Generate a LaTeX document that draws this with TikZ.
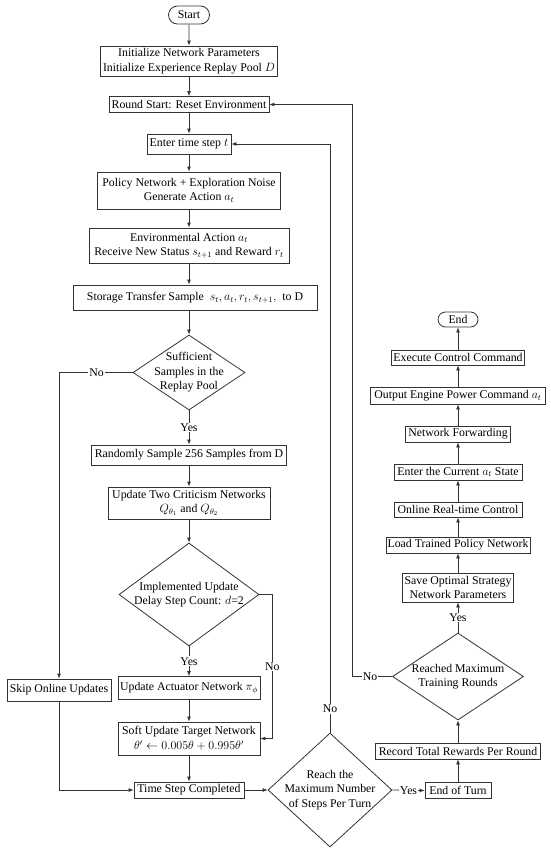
\documentclass[tikz,border=0pt]{standalone}
\usepackage{amsmath}
\usepackage{fontspec}
\setmainfont{Liberation Serif}
\usetikzlibrary{arrows.meta,shapes.geometric,shapes.misc}

\begin{document}
\begin{tikzpicture}[x=1pt, y=-1pt,
    every node/.style={font=\fontsize{11.8}{14.5}\selectfont, align=center},
    proc/.style={draw=black!80, line width=0.8pt, inner sep=0pt},
    term/.style={draw=black!80, line width=0.8pt, inner sep=0pt, rounded rectangle},
    decision/.style={draw=black!80, line width=0.8pt, diamond, inner sep=0pt},
    arr/.style={draw=black!80, line width=0.8pt, -{Latex[length=5pt,width=4pt]}},
    lnk/.style={draw=black!80, line width=0.8pt},
    yn/.style={fill=white, inner sep=1pt}]
    \useasboundingbox (0,0) rectangle (550,854);

    % training loop, main column
    \node[term, minimum width=41, minimum height=18] at (189,15) (start) {Start};
    \node[proc, minimum width=177, minimum height=30] at (189,61) (init) {Initialize Network Parameters\\Initialize Experience Replay Pool $D$};
    \node[proc, minimum width=160, minimum height=16] at (189,104.5) (reset) {Round Start: Reset Environment};
    \node[proc, minimum width=84, minimum height=20] at (189,144) (step) {Enter time step $t$};
    \node[proc, minimum width=183, minimum height=37] at (189,190.5) (policy) {Policy Network + Exploration Noise\\Generate Action $a_t$};
    \node[proc, minimum width=200, minimum height=35] at (189,245.5) (envact) {Environmental Action $a_t$\\Receive New Status $s_{t+1}$ and Reward $r_t$};
    \node[proc, minimum width=244, minimum height=25] at (195,297.5) (store) {Storage Transfer Sample~ $s_t,a_t,r_t,s_{t+1},$~ to D};

    \node[decision, minimum width=112, minimum height=75] at (189,372.5) (suff) {};
    \node at (suff) {Sufficient\\Samples in the\\Replay Pool};

    \node[proc, minimum width=195, minimum height=20] at (189,455) (sample) {Randomly Sample 256 Samples from D};
    \node[proc, minimum width=162, minimum height=32] at (189,503) (critic) {Update Two Criticism Networks\\$Q_{\theta_1}$ and $Q_{\theta_2}$};

    \node[decision, minimum width=140, minimum height=103] at (189,594.5) (delay) {};
    \node at (delay) {Implemented Update\\Delay Step Count: $d$=2};

    \node[proc, minimum width=142, minimum height=23] at (189,688) (actor) {Update Actuator Network $\pi_\phi$};
    \node[proc, minimum width=104, minimum height=22] at (59,690) (skip) {Skip Online Updates};
    \node[proc, minimum width=142, minimum height=33] at (189,738.5) (soft) {Soft Update Target Network\\$\theta' \leftarrow 0.005\theta + 0.995\theta'$};
    \node[proc, minimum width=110, minimum height=16] at (189,790) (done) {Time Step Completed};

    \node[decision, minimum width=124, minimum height=114] at (330,790) (maxstep) {};
    \node at (maxstep) {Reach the\\Maximum Number\\of Steps Per Turn};

    % right column
    \node[proc, minimum width=66, minimum height=16] at (458,790.5) (endturn) {End of Turn};
    \node[proc, minimum width=165, minimum height=16] at (458,751) (record) {Record Total Rewards Per Round};

    \node[decision, minimum width=131, minimum height=87] at (458,676.5) (maxround) {};
    \node at (maxround) {Reached Maximum\\Training Rounds};

    \node[proc, minimum width=111, minimum height=29] at (458,587.5) (save) {Save Optimal Strategy\\Network Parameters};
    \node[proc, minimum width=144, minimum height=16] at (458,545) (load) {Load Trained Policy Network};
    \node[proc, minimum width=128, minimum height=15] at (458,509.5) (online) {Online Real-time Control};
    \node[proc, minimum width=128, minimum height=16] at (458,472) (current) {Enter the Current $a_t$ State};
    \node[proc, minimum width=105, minimum height=16] at (458,434) (forward) {Network Forwarding};
    \node[proc, minimum width=175, minimum height=17] at (458,395.5) (output) {Output Engine Power Command $a_t$};
    \node[proc, minimum width=133, minimum height=15] at (458,357.5) (execute) {Execute Control Command};
    \node[term, minimum width=40, minimum height=15] at (458,319.5) (end) {End};

    % connectors
    \draw[arr] (start) -- (init);
    \draw[arr] (init) -- (reset);
    \draw[arr] (reset) -- (step);
    \draw[arr] (step) -- (policy);
    \draw[arr] (policy) -- (envact);
    \draw[arr] (envact.south) -- (envact.south |- store.north);
    \draw[arr] (store.south -| suff) -- (suff.north);
    \draw[arr] (suff.south) -- node[yn] {Yes} (sample.north);
    \draw[arr] (suff.west) -- node[yn, pos=0.49] {No} (suff.west -| skip) -- (skip.north);
    \draw[arr] (sample) -- (critic);
    \draw[arr] (critic) -- (delay);
    \draw[arr] (delay.south) -- node[yn] {Yes} (actor.north);
    \draw[arr] (delay.east) -- ++(13,0) coordinate (dnode) -- node[yn, pos=0.5] {No} (dnode |- soft.east) -- (soft.east);
    \draw[arr] (actor) -- (soft);
    \draw[arr] (soft) -- (done);
    \draw[arr] (skip.south) |- (done.west);
    \draw[arr] (done) -- (maxstep);
    \draw[arr] (maxstep.east) -- node[yn] {Yes} (endturn.west);
    \draw[arr] (maxstep.north) -- node[yn, pos=0.04] {No} (maxstep.north |- step.east) -- (step.east);
    \draw[arr] (endturn) -- (record);
    \draw[arr] (record) -- (maxround);
    \draw[arr] (maxround.north) -- node[yn] {Yes} (save.south);
    \draw[arr] (maxround.west) -- node[yn, pos=0.55] {No} ++(-40,0) coordinate (rnode) -- (rnode |- reset.east) -- (reset.east);
    \draw[arr] (save) -- (load);
    \draw[arr] (load) -- (online);
    \draw[arr] (online) -- (current);
    \draw[arr] (current) -- (forward);
    \draw[arr] (forward) -- (output);
    \draw[arr] (output) -- (execute);
    \draw[arr] (execute) -- (end);
\end{tikzpicture}
\end{document}
